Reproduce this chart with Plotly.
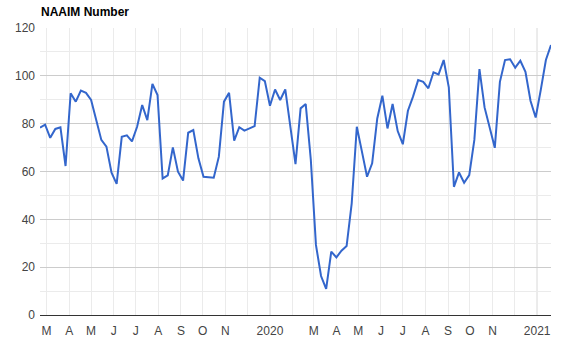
import pandas as pd
import plotly.graph_objects as go

# Weekly NAAIM exposure readings (Wednesdays), Feb 2019 - Jan 2021
start_date = "2019-02-20"
naaim = [
    78.3, 79.6, 74.1, 77.8, 78.5, 62.3, 92.7, 89.2, 93.8, 92.9,
    89.9, 82.0, 73.2, 70.4, 59.5, 54.8, 74.5, 75.1, 72.6, 78.7,
    87.8, 81.5, 96.6, 92.0, 57.1, 58.4, 70.1, 59.9, 56.2, 76.2,
    77.3, 65.5, 57.8, 57.6, 57.4, 66.2, 89.2, 92.9, 72.9, 78.5,
    77.1, 78.0, 79.0, 99.2, 97.8, 87.5, 94.3, 89.9, 94.3, 78.7,
    63.1, 86.4, 88.2, 64.8, 29.3, 16.3, 10.9, 26.5, 24.1, 26.9,
    28.8, 46.7, 78.7, 68.3, 57.8, 63.4, 82.2, 91.7, 78.0, 88.2,
    76.9, 71.4, 85.4, 91.3, 98.2, 97.5, 94.8, 101.5, 100.6, 106.6,
    95.2, 53.6, 59.6, 55.3, 58.5, 73.2, 102.8, 86.8, 78.0, 69.9,
    97.5, 106.6, 106.9, 103.4, 106.3, 101.7, 89.5, 82.6, 94.1, 106.6,
    112.9,
]
dates = pd.date_range(start_date, periods=len(naaim), freq="7D")

# Month ticks (Mar 2019 .. Jan 2021)
month_ticks = pd.date_range("2019-03-01", "2021-01-01", freq="MS")
month_labels = ["M", "A", "M", "J", "J", "A", "S", "O", "N", "", "2020", "",
                "M", "A", "M", "J", "J", "A", "S", "O", "N", "", "2021"]
year_ticks = ["2020-01-01", "2021-01-01"]

y_ticks = [0, 20, 40, 60, 80, 100, 120]

FONT = "Arial, 'Liberation Sans', sans-serif"

W, H = 567, 355

fig = go.Figure()
fig.add_trace(go.Scatter(
    x=dates, y=naaim, mode="lines",
    line=dict(color="#3366cc", width=2),
    hoverinfo="x+y", showlegend=False,
))

for yt in year_ticks:
    fig.add_shape(type="line", xref="x", yref="paper", x0=yt, x1=yt, y0=0, y1=1,
                  line=dict(color="#cccccc", width=1), layer="between")

fig.update_layout(
    width=W, height=H,
    margin=dict(l=40, r=16, t=28, b=40),
    paper_bgcolor="white", plot_bgcolor="white",
    font=dict(family=FONT, size=12, color="#444444"),
    title=dict(text="<b>NAAIM Number</b>", x=41 / W, xanchor="left",
               y=1 - 12 / H, yanchor="middle",
               font=dict(family=FONT, size=12, color="#000000")),
    xaxis=dict(
        range=[dates[0], dates[-1]],
        tickmode="array", tickvals=month_ticks, ticktext=month_labels,
        showgrid=True, gridcolor="#ebebeb", gridwidth=1,
        showline=True, linecolor="#333333", linewidth=1,
        ticks="", zeroline=False, ticklabelstandoff=5,
        tickfont=dict(family=FONT, size=12, color="#444444"),
    ),
    yaxis=dict(
        range=[0, 120], tickvals=y_ticks,
        showgrid=True, gridcolor="#cccccc", gridwidth=1,
        minor=dict(dtick=10, showgrid=True, gridcolor="#ebebeb"),
        zeroline=False, ticks="", ticklabelstandoff=4,
        tickfont=dict(family=FONT, size=12, color="#444444"),
    ),
)

fig.write_html(
    "out.html",
    config={"displayModeBar": False},
    post_script="document.body.style.margin='0';document.body.style.overflow='hidden';",
)
